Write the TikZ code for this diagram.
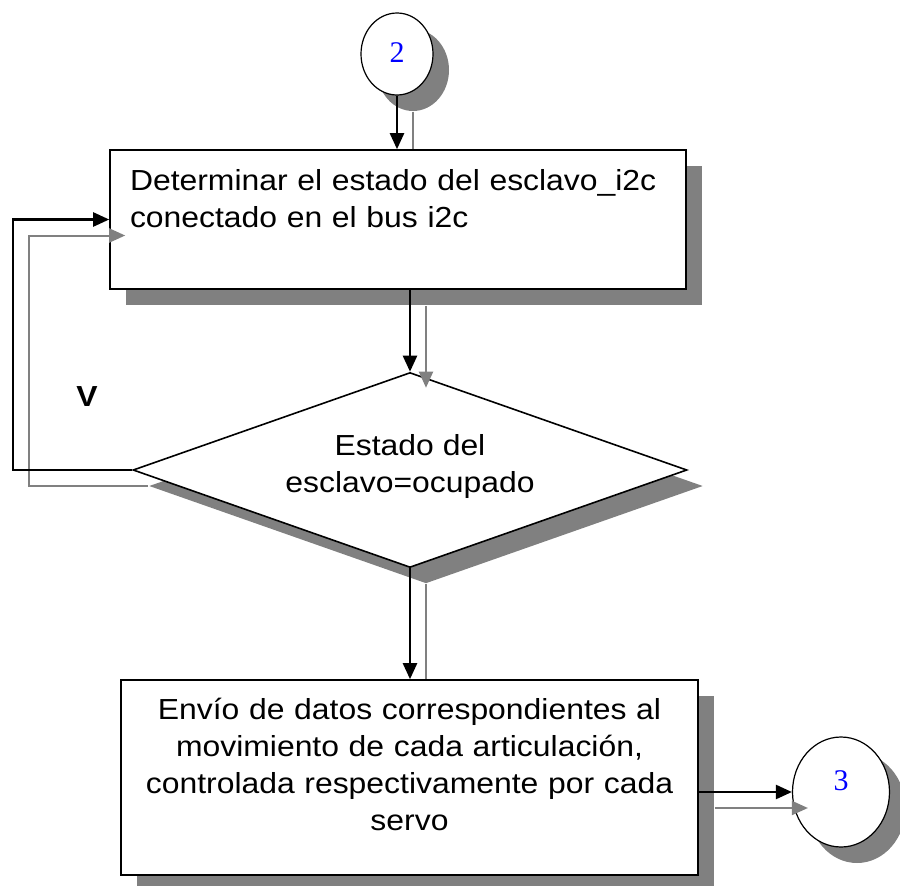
\documentclass[tikz,border=0pt]{standalone}
\usepackage{fontspec}
\newfontfamily\flowfont{Liberation Sans}[FakeStretch=1.1]
\newfontfamily\numfont{Liberation Serif}
\usetikzlibrary{positioning, arrows.meta, shapes.geometric, shadows, calc}
\definecolor{cShadow}{HTML}{808080}
\definecolor{cNum}{HTML}{0000FF}

\begin{document}
\begin{tikzpicture}[
      x=1pt, y=-1pt,
      shadowed/.style={drop shadow={shadow xshift=16pt, shadow yshift=-16pt, fill=cShadow, opacity=1}},
      box/.style={draw, line width=1.6pt, fill=white, shadowed, font=\flowfont\fontsize{29}{37}\selectfont},
      procbox/.style={box, rectangle, inner xsep=20pt},
      decbox/.style={box, diamond, aspect=2.84, inner sep=0pt, align=center},
      conn/.style={draw, ellipse, line width=1.2pt, fill=white, shadowed, inner sep=0pt, font=\numfont\fontsize{30}{34}\selectfont, text=cNum},
      arrow/.style={-{Triangle[length=16pt, width=14pt]}, line width=2.4pt},
      sarrow/.style={arrow, draw=cShadow, line width=2pt},
      sline/.style={draw=cShadow, line width=2pt}
    ]
      \useasboundingbox (0,0) rectangle (900,886);

      \node[conn, minimum width=72pt, minimum height=82pt, text depth=2pt] (c2) at (397,54) {2};
      \node[procbox, minimum width=576pt, minimum height=139pt, text width=536pt, align=left, text depth=80pt] (det) at (398,219.5)
        {Determinar el estado del esclavo\_i2c\\conectado en el bus i2c};
      \node[decbox, minimum width=554pt, minimum height=195pt, text depth=14pt] (dec) at (410,470)
        {Estado del\\esclavo=ocupado};
      \node[procbox, minimum width=577pt, minimum height=195pt, text width=537pt, align=center, text depth=136.5pt] (env) at (409.5,777.5)
        {Envío de datos correspondientes al\\movimiento de cada articulación,\\controlada respectivamente por cada\\servo};
      \node[conn, minimum width=97pt, minimum height=110pt, text depth=22pt] (c3) at (841,792) {3};
      \node[font=\flowfont\bfseries\fontsize{29}{35}\selectfont] (vlabel) at (87,397) {V};

      % shadows of the connectors
      \draw[sline] ($(c2.south)+(16,16)$) -- ($(c2.south |- det.north)+(16,0)$);
      \draw[sarrow] ($(dec.north |- det.south)+(16,16)$) -- ($(dec.north)+(16,16)$);
      \draw[sarrow] ($(dec.west)+(16,16)$) -- ++(-119,0) |- ($(det.west)+(16,16)$);
      \draw[sline] ($(dec.south)+(16,16)$) -- ($(dec.south |- env.north)+(16,0)$);
      \draw[sarrow] ($(env.east |- c3.west)+(16,16)$) -- ($(c3.west)+(16,16)$);

      \draw[arrow] (c2.south) -- (c2.south |- det.north);
      \draw[arrow] (dec.north |- det.south) -- (dec.north);
      \draw[arrow] (dec.west) -- ++(-119,0) |- (det.west);
      \draw[arrow] (dec.south) -- (dec.south |- env.north);
      \draw[arrow] (env.east |- c3.west) -- (c3.west);
    \end{tikzpicture}
\end{document}
